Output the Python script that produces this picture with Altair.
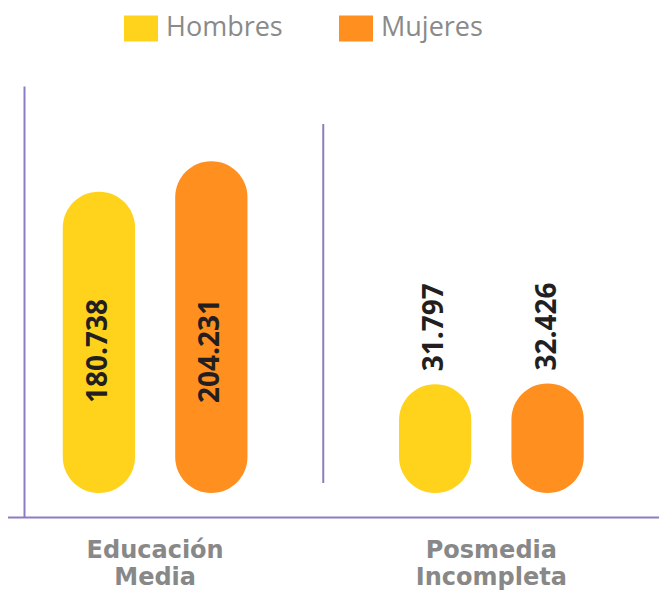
import altair as alt
import pandas as pd

# ---- data ----
groups = ["Educación Media", "Educación Media", "Posmedia Incompleta", "Posmedia Incompleta"]
sexes = ["Hombres", "Mujeres", "Hombres", "Mujeres"]
values = [180738, 204231, 31797, 32426]
group_order = ["Educación Media", "Posmedia Incompleta"]
sex_order = ["Hombres", "Mujeres"]
colors = ["#FFD31B", "#FF8F1F"]

# ---- styling constants ----
PURPLE = "#8E7CC3"
BAR_BASE = -52300
Y_DOMAIN = [-70870, 262520]
INSIDE_MIN = 100000

df = pd.DataFrame({"grupo": groups, "sexo": sexes, "valor": values})
df["base"] = BAR_BASE
df["etiqueta"] = [f"{v:,}".replace(",", ".") for v in values]

x_scale = alt.Scale(domain=group_order, range=[-37, 635.5], paddingInner=0, paddingOuter=0)
x_axis = alt.Axis(
    title=None, labelAngle=0, ticks=False, tickSize=0, grid=False,
    domainColor=PURPLE, domainWidth=2,
    labelExpr="split(datum.label, ' ')",
    labelFont="DejaVu Sans", labelFontWeight="bold", labelFontSize=24,
    labelColor="#888888", labelPadding=21, labelLineHeight=27, labelBaseline="top",
)
x_enc = alt.X("grupo:N", sort=group_order, scale=x_scale, axis=x_axis)
xo_enc = alt.XOffset("sexo:N", sort=sex_order,
                     scale=alt.Scale(domain=sex_order, paddingInner=0.357, paddingOuter=0.674))
y_scale = alt.Scale(domain=Y_DOMAIN, zero=False, nice=False)
y_axis = alt.Axis(title=None, labels=False, ticks=False, grid=False,
                  domainColor=PURPLE, domainWidth=2)

legend = alt.Legend(
    title=None, orient="none", legendX=100, legendY=-75, direction="horizontal",
    symbolType="M-1,-0.765H1V0.765H-1Z", symbolSize=1156, symbolStrokeWidth=0,
    symbolOpacity=1, labelFont="Open Sans", labelFontSize=27, labelColor="#8a8a8a",
    labelOffset=8, columnPadding=56, padding=0, labelLimit=300,
)

base = alt.Chart(df)

bars = base.mark_bar(cornerRadius=36).encode(
    x=x_enc,
    xOffset=xo_enc,
    y=alt.Y("valor:Q", scale=y_scale, axis=y_axis),
    y2="base:Q",
    color=alt.Color("sexo:N", scale=alt.Scale(domain=sex_order, range=colors), legend=legend),
)

text_style = dict(angle=270, align="left", baseline="middle", font="Open Sans",
                  fontWeight="bold", fontSize=28, color="#231F20")

inside = base.transform_filter(alt.datum.valor >= INSIDE_MIN).mark_text(dx=90, **text_style).encode(
    x=x_enc, xOffset=xo_enc,
    y=alt.Y("base:Q", scale=y_scale, axis=y_axis),
    text="etiqueta:N",
)

outside = base.transform_filter(alt.datum.valor < INSIDE_MIN).mark_text(dx=13, **text_style).encode(
    x=x_enc, xOffset=xo_enc,
    y=alt.Y("valor:Q", scale=y_scale, axis=y_axis),
    text="etiqueta:N",
)

sep_df = pd.DataFrame({"grupo": [group_order[1]]})
separator = alt.Chart(sep_df).mark_rule(color=PURPLE, strokeWidth=2).encode(
    x=alt.X("grupo:N", sort=group_order, scale=x_scale, axis=x_axis, bandPosition=0),
    y=alt.value(38),
    y2=alt.value(397),
)

chart = alt.layer(separator, bars, inside, outside).properties(
    width=635, height=431,
    autosize=alt.AutoSizeParams(type="none"),
    padding={"left": 16, "top": 78, "right": 0, "bottom": 74},
).configure_view(stroke=None)

chart.save("out.html", embed_options={"renderer": "svg", "actions": False})
